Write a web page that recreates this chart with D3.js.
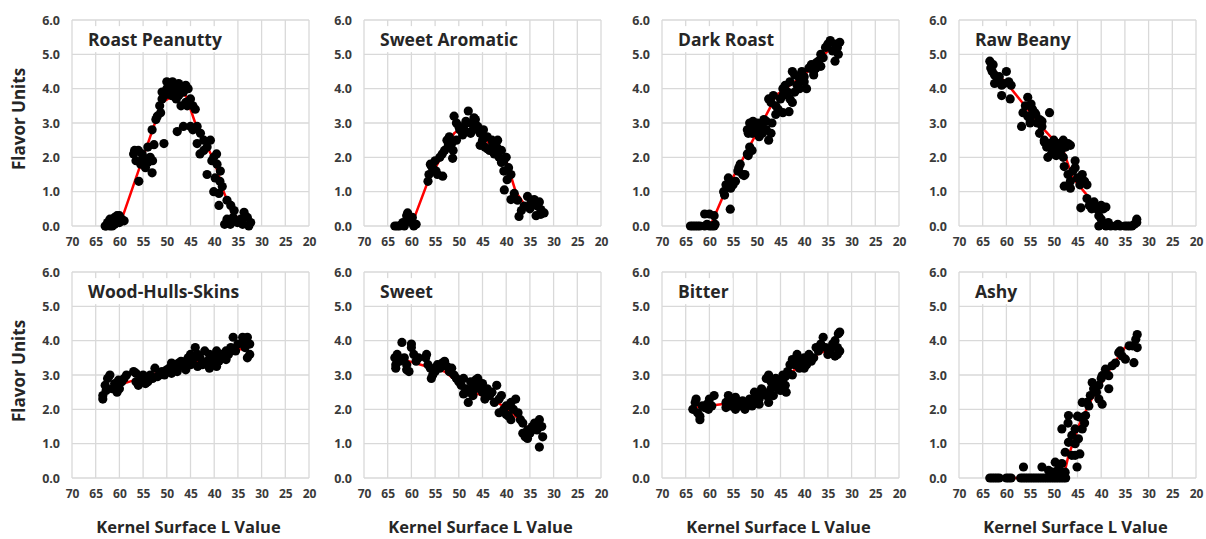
<!DOCTYPE html>
<html>
<head>
<meta charset="utf-8">
<script src="https://cdn.jsdelivr.net/npm/d3@7"></script>
<style>
  body { margin: 0; background: #fff; }
  text { font-family: "Open Sans", "Liberation Sans", sans-serif; font-weight: 700; }
</style>
</head>
<body>
<div id="chart"></div>
<script>
// axis ticks shared by all panels
const xTicks = [70, 65, 60, 55, 50, 45, 40, 35, 30, 25, 20];
const yTicks = [0, 1, 2, 3, 4, 5, 6];
const panelNames = ["Roast Peanutty", "Sweet Aromatic", "Dark Roast", "Raw Beany",
  "Wood-Hulls-Skins", "Sweet", "Bitter", "Ashy"];

// [L value, flavor units]
const roastPeanuttyPts = [[63,0],[62.5,0.1],[62,0.2],[61.5,0],[61,0.25],[60.5,0.3],[60,0.1],[59.5,0.2],[59,0.15],[61,0.05],[62,0],[60,0.3],[62.8,0],[60.8,0.15],
  [57,2.1],[56.5,1.9],[56,2.2],[55.5,1.8],[55,2.0],[54.5,1.7],[54,2.3],[53.5,2.0],[53,1.9],[55.9,1.3],[53.1,1.55],[56.8,2.2],[55.2,2.1],[54,1.85],
  [52.7,2.37],[53.1,2.8],[52.3,3.1],[52,3.2],[51.5,3.5],[51,3.7],[51,3.9],[50.5,3.8],[50,4.0],[50,4.2],[49.5,4.15],[49,4.0],[51.3,3.3],[50.6,2.4],[47.8,2.75],
  [49,3.8],[48.5,3.9],[48,4.1],[47.5,3.8],[47,4.0],[46.5,3.9],[46,4.1],[45.5,4.0],[45,3.7],[48,3.7],[47,3.5],[46,3.6],[44.5,3.5],[48.8,4.2],[47.5,4.15],[46.5,2.9],
  [45.7,3.5],[44,3.4],[45,2.9],[43.6,2.9],[42.9,2.7],[43.6,2.4],[42.2,2.5],[40.8,2.5],[42.2,2.2],[40.1,2.0],[41.5,1.5],[39.4,1.8],[38.7,1.6],[40.1,1.0],[39,0.95],
  [38.3,1.15],[39,0.6],[37.3,0.75],[36.5,0.6],[35.8,0.45],[37.3,0.2],[36.6,0.05],[35.1,0.1],[33.7,0.4],[33,0.25],[32.3,0.1],[34.4,0.2],[32.7,0],[41.5,2.3],
  [40.5,1.9],[39.8,1.4],[38.8,1.3],[37.8,0.05],[36,0.25],[34,0.05],[44.5,2.8],[43,2.1],[39.5,2.1]];
const roastPeanuttyFit = [[62,0.05],[59.5,0.2],[51,3.6],[48,3.85],[46,3.8],[44,3.0],[40,1.9],[38,1.0],[36,0.3],[34,0.2]];

const sweetAromaticPts = [[63.5,0],[63,0],[62.5,0],[62,0.05],[61.5,0],[61,0.3],[60.5,0.2],[60,0.1],[59.5,0],[59,0.05],[60.8,0.38],[61.8,0.1],[59.8,0.25],
  [56.5,1.3],[56.3,1.5],[56,1.8],[55.5,1.7],[55,1.9],[54.5,1.5],[54,2.0],[53.5,2.1],[53.4,1.45],[55.8,1.75],[54.8,1.6],
  [53,2.2],[52.5,2.5],[52,2.6],[51.5,2.4],[51,3.2],[50.5,3.0],[50,2.9],[51.3,1.97],[50.5,2.5],[49.8,2.8],[52.2,2.35],[51.2,2.2],
  [49.5,2.8],[49,2.9],[48.5,2.75],[48,3.35],[47.5,3.0],[47,2.8],[46.5,3.1],[46,2.9],[45.5,2.7],[44.8,2.8],[48.5,3.05],[47.5,2.7],[46.8,3.15],[49.2,2.65],
  [45,2.5],[44.5,2.3],[44,2.6],[43.5,2.2],[43,2.5],[42.5,2.1],[42,2.3],[41.5,2.0],[41,2.2],[40.5,1.9],[40,2.0],[39.5,1.7],[39,1.5],[40.5,1.6],[45.5,2.35],
  [44,2.25],[42.8,2.4],[41.8,2.5],[41,1.85],[39.8,1.35],[42.5,2.15],
  [40.4,1.05],[39,0.77],[38.3,0.95],[37.6,0.75],[37.3,0.28],[36.2,0.58],[35.5,0.86],[34.8,0.67],[34.1,0.77],[33.4,0.58],[32.7,0.48],[32,0.38],[32.7,0.34],
  [33.7,0.3],[35,0.5],[33,0.7],[36.8,0.45]];
const sweetAromaticFit = [[62,0.05],[59.5,0.2],[56.5,1.3],[51,2.7],[48,3.0],[45,2.6],[40,1.9],[38,1.0],[36,0.6],[33,0.5]];

const darkRoastPts = [[64,0],[63.5,0],[63,0],[62.5,0],[62,0],[61,0],[60,0],[59.5,0],[59,0],[61,0.35],[60,0.35],[59,0.3],[60.5,0.05],[58.8,0.05],
  [57,1.0],[56.5,1.2],[56,1.4],[55.5,1.1],[55,1.2],[54.5,1.3],[55.6,0.49],[56.8,0.9],[55.8,1.25],
  [54,1.6],[53.5,1.8],[53,1.5],[52.5,1.5],[52.7,1.47],[53.8,1.7],[52,2.1],[51.5,2.3],[51,2.2],[51.8,2.05],
  [52,2.8],[51.5,3.0],[51,2.7],[50.5,2.9],[50,2.8],[49.5,2.6],[49,2.9],[48.5,3.1],[48,2.8],[47.5,2.5],[47,2.7],[46.8,3.0],[51.8,2.7],[50.8,3.05],[49.8,3.0],
  [48.8,2.7],[48,3.05],[47.5,3.7],[47,3.6],[46.5,3.8],[46,3.5],[45.5,3.4],[45,3.7],[44.5,3.3],[43.2,3.33],[46,3.25],
  [44.5,4.0],[44,4.1],[43.5,3.9],[43,4.2],[42.5,4.5],[42,4.4],[41.5,4.1],[41,4.3],[40.5,4.5],[40,4.2],[39.5,4.0],[43,3.7],[42,3.9],[41,4.0],[40,4.35],
  [44.5,3.8],[42.5,3.6],[39,4.6],[38.5,4.7],[38,4.5],[37.5,4.6],[37,4.8],[36.5,5.0],[36,4.9],[35.5,5.2],[35,5.3],[34.5,5.4],[34,5.1],[33.5,4.8],[33,5.2],
  [32.5,5.35],[32.8,5.0],[33.5,5.3],[37.5,4.75],[36.5,4.65],[38,4.4]];
const darkRoastFit = [[63,0],[59.5,0.1],[57,0.9],[47,3.5],[46,3.8],[40,4.4],[35,5.1],[33,5.2]];

const rawBeanyPts = [[63.5,4.8],[63.3,4.6],[63,4.5],[62.8,4.7],[62.5,4.4],[62,4.2],[61.5,4.35],[61,4.1],[60,4.5],[59.5,4.2],[59,4.1],[61,3.8],[59.2,3.7],
  [62.5,4.15],[60.5,4.15],[56.5,3.3],[56,3.5],[55.5,3.2],[55,3.1],[55.5,3.75],[54.5,3.4],[54,3.3],[53.5,3.0],[53,3.1],[50.9,3.3],[56.8,2.9],[55,3.0],
  [54.8,3.55],[53.8,3.25],[52.5,3.05],[53,2.7],[52.5,2.9],[52,2.5],[51.5,2.3],[51,2.4],[50.5,2.1],[51.25,2.0],[52,2.45],
  [50,2.5],[49.5,2.3],[49,2.4],[48.5,2.2],[48,2.5],[47.5,2.3],[47,2.4],[46.5,2.35],[48,2.0],[47.8,1.73],[47.8,1.16],[49.5,2.05],[50,2.25],
  [47,1.5],[46.5,1.3],[46,1.6],[45.5,1.9],[45,1.4],[44.5,1.2],[44,1.5],[43.5,1.3],[43,1.2],[46.5,1.1],[45.5,1.7],[44.3,0.53],
  [43,0.8],[42.5,0.6],[42,0.5],[41.5,0.7],[41,0.5],[40.5,0.3],[40,0.2],[40,0.6],[39.5,0.5],[39,0.55],[39,0],[38.5,0.1],[38,0],[37,0],[36,0],[35,0],[34,0],
  [33,0.05],[32.5,0.1],[32.5,0.2],[40.5,0],[39.8,0.05],[36.5,0.05],[34.5,0],[33.5,0]];
const rawBeanyFit = [[63,4.6],[59,4.0],[52,2.8],[48,2.2],[46,1.4],[43,0.9],[39,0.1],[37,0],[33,0]];

const woodHullsPts = [[63.5,2.4],[63,2.7],[62.5,2.9],[62,3.0],[61.5,2.6],[61,2.75],[60.5,2.5],[60,2.6],[59.5,2.8],[59,2.9],[58.5,3.0],[63.5,2.3],[62.8,2.55],
  [60.2,2.85],[57,3.1],[56.5,2.8],[56,2.7],[55.5,2.9],[55,3.0],[54.5,2.75],[54,2.8],[53.5,3.0],[53,2.9],[52.5,3.2],[52,2.95],[51.5,3.0],[56.5,3.05],[54.8,2.85],
  [51,3.1],[50.5,3.0],[50,3.15],[49.5,3.2],[49,3.05],[48.5,3.3],[48,3.2],[47.5,3.35],[47,3.4],[46.5,3.25],[46,3.4],[45.5,3.5],[45,3.3],[44.5,3.45],[44,3.8],
  [43.5,3.6],[49,3.35],[47.8,3.1],[46,3.15],[45,3.6],[43,3.5],[42.5,3.3],[42,3.7],[41.5,3.4],[41,3.6],[40.5,3.3],[40,3.5],[39.5,3.7],[39,3.4],[38.5,3.6],
  [38,3.5],[37.5,3.7],[37,3.6],[36.5,3.8],[36,4.1],[35.5,3.7],[35,3.9],[43.5,3.25],[41,3.2],[39.5,3.25],[37.5,3.45],
  [34,4.1],[33.5,4.0],[33,4.1],[32.5,3.9],[32.5,3.6],[33,3.5],[33.5,3.8]];
const woodHullsFit = [[63,2.6],[58,2.8],[51,3.1],[47,3.3],[41,3.45],[35,3.75],[33,3.75]];

const sweetPts = [[63.5,3.5],[63.3,3.3],[63,3.6],[62.5,3.4],[62,3.95],[61.5,3.5],[61,3.3],[60.5,3.1],[60,3.8],[59.5,3.6],[59,3.4],[58.5,3.5],[60,3.9],[61,3.15],
  [63.3,3.2],[57,3.5],[56.5,3.3],[56,3.2],[55.5,3.0],[55,3.1],[54.5,3.3],[54,3.2],[53.5,3.35],[53,3.4],[52.5,3.25],[52,3.1],[51.5,3.2],[55.8,2.9],[56.8,3.6],
  [51,3.0],[50.5,2.9],[50,2.8],[49.5,2.7],[49,2.9],[48.5,2.6],[48,2.5],[47.5,2.8],[47,2.4],[46.5,2.6],[46,2.9],[45.5,2.7],[45,2.5],[44.5,2.3],[44,2.6],
  [43.5,2.4],[48,2.2],[49,2.45],[46.5,2.85],[45,2.75],[47,2.65],[43,2.5],[42.5,2.2],[42,2.7],[41.5,2.3],[41,2.4],[40.5,2.0],[40,2.1],[39.5,1.8],[39,2.2],
  [38.5,2.0],[38,2.3],[37.5,1.9],[39,1.7],[40,1.85],[41.5,1.9],[37,1.7],[36.5,1.6],[36,1.2],[35.5,1.4],[35,1.3],[34.5,1.5],[34,1.6],[33.5,1.4],[33,1.7],
  [32.5,1.5],[32.3,1.2],[33,0.9],[36.5,1.3],[35.5,1.15]];
const sweetFit = [[63,3.5],[58,3.3],[53,3.1],[48,2.55],[43,2.3],[39,1.95],[36,1.5],[33,1.4]];

const bitterPts = [[63.5,2.0],[63,2.2],[62.8,2.3],[62.5,1.9],[62,1.8],[61.5,2.1],[61,2.05],[60.5,2.15],[60,2.3],[59.5,2.1],[59,2.4],[62,1.7],[60.2,2.0],
  [56.5,2.2],[56,2.4],[55.5,2.1],[55,2.3],[54.5,2.0],[54,2.2],[53.5,2.1],[53,2.25],[52.5,2.0],[52,2.15],[51.5,2.3],[51,2.1],[50.5,2.2],[56.5,2.05],[54.5,2.35],
  [50.5,2.5],[50,2.4],[49.5,2.3],[49,2.6],[48.5,2.5],[48,2.4],[47.5,2.2],[47,2.6],[46.5,2.4],[49.5,2.15],
  [48,2.9],[47.5,3.0],[47,2.8],[46.5,2.7],[46,2.9],[45.5,2.6],[45,2.8],[44.5,3.0],[44,2.7],[43.5,3.1],[43,3.3],[42.5,3.0],[43.8,2.5],[45,2.55],[44,2.95],
  [42,3.3],[41.5,3.6],[41,3.2],[40.5,3.4],[40,3.5],[39.5,3.3],[39,3.6],[38.5,3.4],[38,3.5],[37.5,3.8],[37,3.7],[36.5,3.9],[36,4.1],[35.5,3.8],[35,3.6],
  [34.5,3.75],[41,3.45],[40,3.2],[42.5,3.45],[34,3.9],[33.5,4.0],[33,3.8],[32.8,4.2],[32.5,4.25],[33,3.6],[32.5,3.7],[33.5,3.55]];
const bitterFit = [[63,2.05],[57.5,2.15],[52,2.2],[48,2.55],[43,3.05],[38,3.55],[34,3.8],[33,3.9]];

const ashyPts = [[63.5,0],[63,0],[62.5,0],[62,0],[61.5,0],[60,0],[59.5,0],[59,0],[57,0],[56.5,0],[56,0],[55.5,0],[55,0],[54.5,0],[54,0],[53.5,0],[53,0],
  [52.5,0],[52,0],[51.5,0],[51,0],[50.5,0],[50,0],[49.5,0],[49,0],[48.5,0],[48,0],[47.5,0],
  [56.4,0.32],[52.5,0.32],[51.1,0.22],[49.7,0.46],[49,0.27],[48.3,0.42],[50.4,0.17],[47.6,0.17],[49.5,0.1],[48.2,0.1],
  [48.3,1.43],[46.9,1.82],[47.6,0.75],[46.2,0.66],[45.1,0.32],[45.5,0.66],[46.9,1.04],[46.2,1.24],[45.5,1.43],[44.8,1.14],[44.4,1.77],[44,1.43],[43.3,1.82],
  [44,2.2],[42.6,2.1],[42.3,2.4],[41.6,2.6],[41.9,2.78],[40.5,2.3],[39.8,2.15],[40.5,2.7],[39.8,2.98],[39.1,3.17],[38.4,2.98],[38.4,2.6],[37.7,3.27],
  [36.3,3.65],[35.6,3.55],[34.9,3.46],[33.4,3.85],[32.7,4.04],[32.4,4.18],[32.4,3.8],[33.1,3.36],[34.1,3.85],[45.5,1.0],[44.5,0.7],[43,2.2],[41,2.5],
  [40,2.9],[37,3.35],[36,3.7],[43.5,1.6],[47,1.6],[45,1.8]];
const ashyFit = [[63,0],[48,0],[47,0.6],[44.5,1.6],[42,2.3],[38,3.2],[35,3.8],[33,3.9]];

const allPts = [roastPeanuttyPts, sweetAromaticPts, darkRoastPts, rawBeanyPts, woodHullsPts, sweetPts, bitterPts, ashyPts];
const allFits = [roastPeanuttyFit, sweetAromaticFit, darkRoastFit, rawBeanyFit, woodHullsFit, sweetFit, bitterFit, ashyFit];

const width = 1206, height = 539;
const colLefts = [72, 364, 662, 959];
const rowTops = [20, 272];
const plotW = 237, plotH = 206;

const svg = d3.select("#chart").append("svg")
  .attr("width", width)
  .attr("height", height);

panelNames.forEach((name, i) => {
  const row = Math.floor(i / 4), col = i % 4;
  const g = svg.append("g")
    .attr("transform", `translate(${colLefts[col]},${rowTops[row]})`);

  const x = d3.scaleLinear().domain([70, 20]).range([0, plotW]);
  const y = d3.scaleLinear().domain([0, 6]).range([plotH, 0]);

  // gridlines
  g.append("g").selectAll("line").data(xTicks).join("line")
    .attr("x1", d => x(d)).attr("x2", d => x(d))
    .attr("y1", 0).attr("y2", plotH)
    .attr("stroke", "#d9d9d9").attr("stroke-width", 1.3);
  g.append("g").selectAll("line").data(yTicks).join("line")
    .attr("x1", 0).attr("x2", plotW)
    .attr("y1", d => y(d)).attr("y2", d => y(d))
    .attr("stroke", "#d9d9d9").attr("stroke-width", 1.3);

  // axes (labels only)
  const xAxis = g.append("g")
    .attr("transform", `translate(0,${plotH})`)
    .call(d3.axisBottom(x).tickValues(xTicks).tickSize(0).tickPadding(11));
  const yAxis = g.append("g")
    .call(d3.axisLeft(y).tickValues(yTicks).tickFormat(d3.format(".1f")).tickSize(0).tickPadding(12));
  [xAxis, yAxis].forEach(a => {
    a.select(".domain").remove();
    a.selectAll("text")
      .style("font-family", "'Open Sans', 'Liberation Sans', sans-serif")
      .style("font-weight", 700)
      .style("font-size", "12.5px")
      .attr("fill", "#3a3a3a");
  });
  xAxis.selectAll("text").style("font-size", "12px");

  // title with white box behind it
  const titleBox = g.append("rect").attr("fill", "#fff");
  const title = g.append("text")
    .attr("x", 16).attr("y", 20)
    .attr("dy", "0.35em")
    .style("font-size", "17.5px")
    .attr("fill", "#262626")
    .text(name);
  const bb = title.node().getBBox();
  titleBox
    .attr("x", bb.x - 4).attr("y", bb.y - 1)
    .attr("width", bb.width + 8).attr("height", bb.height + 2);

  // red trend line
  g.append("path")
    .datum(allFits[i])
    .attr("fill", "none")
    .attr("stroke", "#ff0000")
    .attr("stroke-width", 2.5)
    .attr("d", d3.line().x(d => x(d[0])).y(d => y(d[1])));

  // data points
  g.append("g").selectAll("circle").data(allPts[i]).join("circle")
    .attr("cx", d => x(d[0]))
    .attr("cy", d => y(d[1]))
    .attr("r", 4.6)
    .attr("fill", "#000");

  if (col === 0) {
    g.append("text")
      .attr("transform", `translate(${19 - colLefts[col]},${plotH / 2 - 4})rotate(-90)`)
      .attr("text-anchor", "middle")
      .attr("dy", "0.35em")
      .style("font-size", "17px")
      .attr("fill", "#262626")
      .text("Flavor Units");
  }
  if (row === 1) {
    // baseline kept so the text box stays inside the 539px frame
    g.append("text")
      .attr("x", plotW / 2 - 2)
      .attr("y", plotH + 55)
      .attr("text-anchor", "middle")
      .style("font-size", "16.5px")
      .attr("fill", "#262626")
      .text("Kernel Surface L Value");
  }
});
</script>
</body>
</html>
